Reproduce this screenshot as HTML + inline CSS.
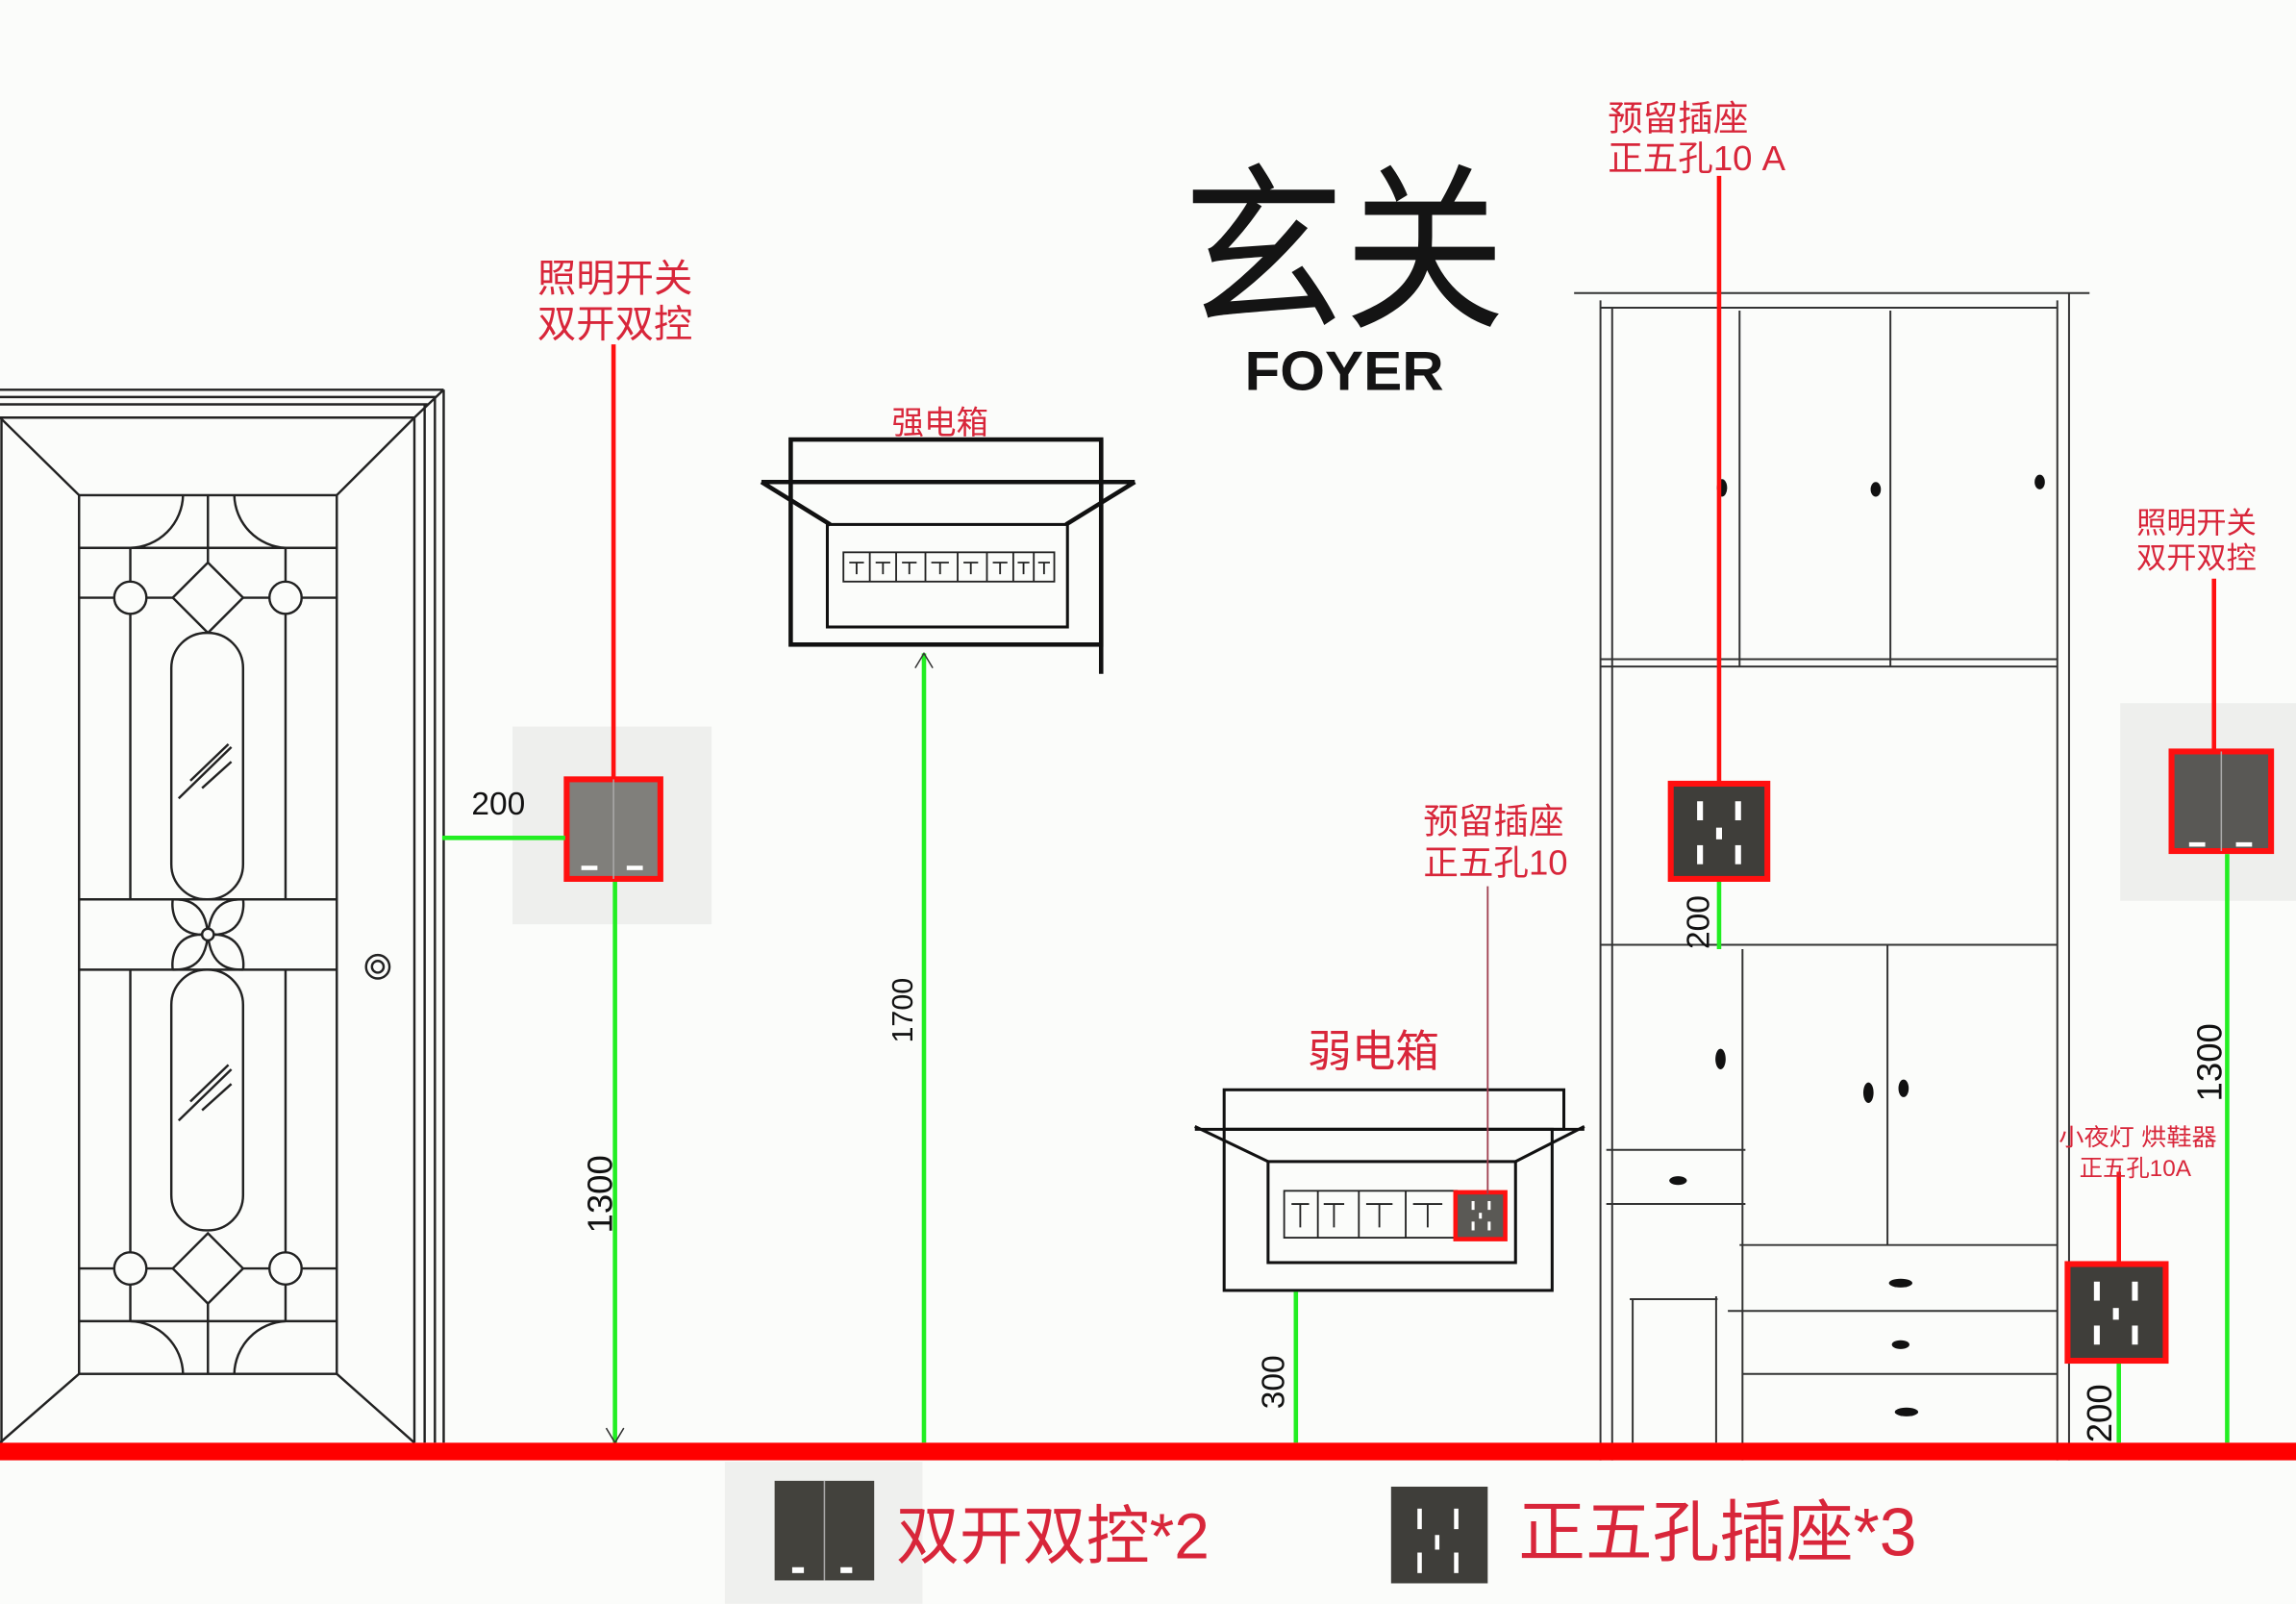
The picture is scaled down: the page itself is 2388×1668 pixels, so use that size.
<!DOCTYPE html>
<html><head><meta charset="utf-8"><style>
html,body{margin:0;padding:0;background:#fbfcfa;}
svg{display:block;}
text{font-family:"Liberation Sans","Noto Sans CJK SC",sans-serif;}
</style></head><body>
<svg width="2388" height="1668" viewBox="0 0 1568 1095" xmlns="http://www.w3.org/2000/svg">
<rect width="1568" height="1095" fill="#fbfcfa"/>
<defs>
<g id="sock">
<rect x="0" y="0" width="66" height="66" fill="#3f3e3a"/>
<rect x="18" y="12" width="4" height="13" fill="#fff"/><rect x="44" y="12" width="4" height="13" fill="#fff"/>
<rect x="31" y="30" width="4" height="8" fill="#fff"/>
<rect x="18" y="42" width="4" height="13" fill="#fff"/><rect x="44" y="42" width="4" height="13" fill="#fff"/>
</g>
</defs>

<!-- Door -->
<g stroke="#222" stroke-width="1.6" fill="none">
<line x1="0" y1="266" x2="303" y2="266"/><line x1="0" y1="271" x2="298" y2="271"/><line x1="0" y1="276" x2="292" y2="276"/>
<line x1="303" y1="266" x2="303" y2="985"/><line x1="297" y1="271" x2="297" y2="985"/><line x1="290" y1="276" x2="290" y2="985"/><line x1="283" y1="285" x2="283" y2="985"/>
<line x1="303" y1="266" x2="283" y2="285"/>
<line x1="0" y1="285" x2="283" y2="285"/><line x1="1" y1="285" x2="1" y2="985"/>
<line x1="0" y1="285" x2="54" y2="338"/><line x1="283" y1="285" x2="230" y2="338"/>
<line x1="0" y1="985" x2="54" y2="938"/><line x1="283" y1="985" x2="230" y2="938"/>
<rect x="54" y="338" width="176" height="600"/>
<line x1="54" y1="374" x2="230" y2="374"/><line x1="54" y1="408" x2="230" y2="408"/>
<line x1="54" y1="614" x2="230" y2="614"/><line x1="54" y1="662" x2="230" y2="662"/>
<line x1="54" y1="866" x2="230" y2="866"/><line x1="54" y1="902" x2="230" y2="902"/>
<line x1="142" y1="338" x2="142" y2="384"/><line x1="142" y1="890" x2="142" y2="938"/>
<line x1="89" y1="374" x2="89" y2="614"/><line x1="195" y1="374" x2="195" y2="614"/>
<line x1="89" y1="662" x2="89" y2="902"/><line x1="195" y1="662" x2="195" y2="902"/>
<path d="M89 374 A37 37 0 0 0 125 338"/><path d="M195 374 A37 37 0 0 1 160 338"/>
<path d="M89 902 A37 37 0 0 1 125 938"/><path d="M195 902 A37 37 0 0 0 160 938"/>
<circle cx="89" cy="408" r="11" fill="#fbfcfa"/><circle cx="195" cy="408" r="11" fill="#fbfcfa"/>
<circle cx="89" cy="866" r="11" fill="#fbfcfa"/><circle cx="195" cy="866" r="11" fill="#fbfcfa"/>
<polygon points="142,384 166,408 142,432 118,408" fill="#fbfcfa"/>
<polygon points="142,842 166,866 142,890 118,866" fill="#fbfcfa"/>
<rect x="117" y="432" width="49" height="182" rx="24" fill="#fbfcfa"/>
<rect x="117" y="662" width="49" height="178" rx="24" fill="#fbfcfa"/>
<path d="M142 638 C118 640 117 620 118 614 M142 638 C166 640 167 620 166 614 M142 638 C118 636 117 656 118 662 M142 638 C166 636 167 656 166 662"/>
<path d="M142 638 C140 614 125 614 118 614 M142 638 C144 614 159 614 166 614 M142 638 C140 662 125 662 118 662 M142 638 C144 662 159 662 166 662"/>
<circle cx="142" cy="638" r="4" fill="#fbfcfa"/>
<line x1="122" y1="545" x2="158" y2="510"/><line x1="130" y1="533" x2="156" y2="508"/><line x1="138" y1="538" x2="158" y2="520"/>
<line x1="122" y1="765" x2="158" y2="730"/><line x1="130" y1="752" x2="156" y2="727"/><line x1="138" y1="758" x2="158" y2="740"/>
<circle cx="258" cy="660" r="8"/><circle cx="258" cy="660" r="4"/>
</g>

<!-- Left switch -->
<rect x="350" y="496" width="136" height="135" fill="#eeefed"/>
<line x1="419" y1="235" x2="419" y2="531" stroke="#ff1010" stroke-width="3"/>
<rect x="387" y="532" width="64" height="68" fill="#807f7b" stroke="#ff1010" stroke-width="4"/>
<line x1="419" y1="532" x2="419" y2="600" stroke="#aaa" stroke-width="1"/>
<rect x="397" y="591" width="11" height="3" fill="#fff"/><rect x="428" y="591" width="11" height="3" fill="#fff"/>
<line x1="302" y1="572" x2="386" y2="572" stroke="#22ee22" stroke-width="3"/>
<line x1="420" y1="602" x2="420" y2="985" stroke="#22ee22" stroke-width="3"/>
<path d="M414 975 L420 985 L426 975" stroke="#333" fill="none" stroke-width="1"/>
<text x="322" y="556" font-size="22" fill="#111">200</text>
<text transform="translate(418,842) rotate(-90)" font-size="24" fill="#111">1300</text>
<text x="367" y="199" font-size="26" fill="#d8263a" textLength="106" lengthAdjust="spacingAndGlyphs">照明开关</text>
<text x="367" y="230" font-size="26" fill="#d8263a" textLength="106" lengthAdjust="spacingAndGlyphs">双开双控</text>

<!-- Strong box -->
<text x="642" y="296" font-size="22" fill="#d8263a" text-anchor="middle">强电箱</text>
<g stroke="#111" stroke-width="3" fill="none">
<rect x="540" y="300" width="212" height="140"/>
<line x1="752" y1="300" x2="752" y2="460"/>
<line x1="520" y1="329" x2="775" y2="329"/>
<line x1="520" y1="329" x2="567" y2="358"/><line x1="775" y1="329" x2="728" y2="358"/>
<rect x="565" y="358" width="164" height="70" stroke-width="2"/>
</g>
<g stroke="#222" stroke-width="1.2" fill="none">
<rect x="576" y="377" width="144" height="20"/>
<line x1="594" y1="377" x2="594" y2="397"/><line x1="612" y1="377" x2="612" y2="397"/><line x1="632" y1="377" x2="632" y2="397"/><line x1="654" y1="377" x2="654" y2="397"/><line x1="674" y1="377" x2="674" y2="397"/><line x1="692" y1="377" x2="692" y2="397"/><line x1="706" y1="377" x2="706" y2="397"/>
<path d="M580 384h10M585 384v8M598 384h10M603 384v8M616 384h10M621 384v8M636 384h12M642 384v8M658 384h10M663 384v8M678 384h10M683 384v8M695 384h8M699 384v8M709 384h8M713 384v8"/>
</g>
<line x1="631" y1="446" x2="631" y2="985" stroke="#22ee22" stroke-width="3"/>
<path d="M625 456 L631 446 L637 456" stroke="#333" fill="none" stroke-width="1"/>
<text transform="translate(623,712) rotate(-90)" font-size="20" fill="#111">1700</text>

<!-- Title -->
<text x="918" y="214" font-size="122" fill="#141414" text-anchor="middle" textLength="220" lengthAdjust="spacingAndGlyphs">玄关</text>
<text x="918" y="266" font-size="38" fill="#141414" text-anchor="middle" font-weight="bold" textLength="136" lengthAdjust="spacingAndGlyphs">FOYER</text>

<!-- Weak box -->
<text x="938" y="728" font-size="30" fill="#d8263a" text-anchor="middle">弱电箱</text>
<g stroke="#111" stroke-width="2" fill="none">
<rect x="836" y="744" width="232" height="27"/>
<line x1="816" y1="771" x2="1082" y2="771"/>
<line x1="816" y1="769" x2="866" y2="793"/><line x1="1082" y1="769" x2="1035" y2="793"/>
<rect x="836" y="771" width="224" height="110"/>
<rect x="866" y="793" width="169" height="69"/>
</g>
<g stroke="#222" stroke-width="1.2" fill="none">
<rect x="877" y="813" width="118" height="32"/>
<line x1="900" y1="813" x2="900" y2="845"/><line x1="928" y1="813" x2="928" y2="845"/><line x1="960" y1="813" x2="960" y2="845"/>
<path d="M882 822h12M888 822v16M904 822h14M911 822v16M933 822h18M942 822v16M965 822h20M975 822v16"/>
</g>
<rect x="994" y="814" width="34" height="32" fill="#5a5955" stroke="#ff1010" stroke-width="3"/>
<rect x="1005" y="820" width="2" height="6" fill="#fff"/><rect x="1016" y="820" width="2" height="6" fill="#fff"/><rect x="1010" y="828" width="2" height="4" fill="#fff"/><rect x="1005" y="834" width="2" height="6" fill="#fff"/><rect x="1016" y="834" width="2" height="6" fill="#fff"/>
<line x1="1016" y1="605" x2="1016" y2="815" stroke="#a04050" stroke-width="1.2"/>
<text x="972" y="569" font-size="24" fill="#d8263a">预留插座</text>
<text x="972" y="597" font-size="24" fill="#d8263a">正五孔10</text>
<line x1="885" y1="882" x2="885" y2="985" stroke="#22ee22" stroke-width="3"/>
<text transform="translate(877,962) rotate(-90)" font-size="22" fill="#111">300</text>

<!-- Cabinet -->
<g stroke="#333" stroke-width="1.3" fill="none">
<line x1="1075" y1="200" x2="1427" y2="200"/>
<line x1="1093" y1="210" x2="1405" y2="210"/>
<line x1="1093" y1="205" x2="1093" y2="997"/><line x1="1101" y1="210" x2="1101" y2="997"/>
<line x1="1405" y1="205" x2="1405" y2="997"/><line x1="1413" y1="200" x2="1413" y2="997"/>
<line x1="1188" y1="212" x2="1188" y2="455"/><line x1="1291" y1="212" x2="1291" y2="455"/>
<line x1="1093" y1="450" x2="1405" y2="450"/><line x1="1093" y1="455" x2="1405" y2="455"/>
<line x1="1093" y1="645" x2="1405" y2="645"/>
<line x1="1190" y1="648" x2="1190" y2="997"/><line x1="1289" y1="645" x2="1289" y2="850"/>
<line x1="1097" y1="785" x2="1192" y2="785"/><line x1="1097" y1="822" x2="1192" y2="822"/>
<line x1="1188" y1="850" x2="1405" y2="850"/><line x1="1180" y1="895" x2="1405" y2="895"/><line x1="1190" y1="938" x2="1405" y2="938"/>
<line x1="1113" y1="887" x2="1173" y2="887"/><line x1="1115" y1="887" x2="1115" y2="985"/><line x1="1172" y1="885" x2="1172" y2="985"/>
</g>
<g fill="#111">
<ellipse cx="1176" cy="333" rx="3.5" ry="6"/><ellipse cx="1281" cy="334" rx="3.5" ry="5"/><ellipse cx="1393" cy="329" rx="3.5" ry="5"/>
<ellipse cx="1175" cy="723" rx="3.5" ry="7"/><ellipse cx="1276" cy="746" rx="3.5" ry="7"/><ellipse cx="1300" cy="743" rx="3.5" ry="6"/>
<ellipse cx="1146" cy="806" rx="6" ry="3"/><ellipse cx="1298" cy="876" rx="8" ry="3"/><ellipse cx="1298" cy="918" rx="6" ry="3"/><ellipse cx="1302" cy="964" rx="8" ry="3"/>
</g>
<line x1="1174" y1="120" x2="1174" y2="535" stroke="#ff1010" stroke-width="3"/>
<use href="#sock" x="1141" y="535"/>
<rect x="1141" y="535" width="66" height="65" fill="none" stroke="#ff1010" stroke-width="4"/>
<line x1="1174" y1="602" x2="1174" y2="648" stroke="#22ee22" stroke-width="3"/>
<text transform="translate(1167,648) rotate(-90)" font-size="22" fill="#111">200</text>
<text x="1098" y="89" font-size="24" fill="#d8263a">预留插座</text>
<text x="1098" y="116" font-size="24" fill="#d8263a">正五孔10 A</text>

<!-- Right switch -->
<rect x="1448" y="480" width="120" height="135" fill="#eeefed"/>
<line x1="1512" y1="395" x2="1512" y2="512" stroke="#ff1010" stroke-width="3"/>
<rect x="1483" y="513" width="68" height="68" fill="#595855" stroke="#ff1010" stroke-width="4"/>
<line x1="1517" y1="513" x2="1517" y2="581" stroke="#aaa" stroke-width="1"/>
<rect x="1495" y="575" width="11" height="3" fill="#fff"/><rect x="1527" y="575" width="11" height="3" fill="#fff"/>
<text x="1459" y="364" font-size="20.5" fill="#d8263a">照明开关</text>
<text x="1459" y="388" font-size="20.5" fill="#d8263a">双开双控</text>
<line x1="1521" y1="583" x2="1521" y2="985" stroke="#22ee22" stroke-width="3"/>
<text transform="translate(1517,752) rotate(-90)" font-size="24" fill="#111">1300</text>

<!-- Night light socket -->
<line x1="1447" y1="800" x2="1447" y2="862" stroke="#ff1010" stroke-width="3"/>
<use href="#sock" x="1412" y="863"/>
<rect x="1412" y="863" width="67" height="66" fill="none" stroke="#ff1010" stroke-width="4"/>
<text x="1406" y="782" font-size="16" fill="#d8263a" textLength="108" lengthAdjust="spacingAndGlyphs">小夜灯 烘鞋器</text>
<text x="1420" y="803" font-size="16" fill="#d8263a">正五孔10A</text>
<line x1="1447" y1="931" x2="1447" y2="985" stroke="#22ee22" stroke-width="3"/>
<text transform="translate(1442,985) rotate(-90)" font-size="24" fill="#111">200</text>

<!-- Floor -->
<rect x="0" y="985" width="1568" height="12" fill="#ff0000"/>

<!-- Legend -->
<rect x="495" y="998" width="135" height="97" fill="#eff0ee"/>
<rect x="529" y="1011" width="68" height="68" fill="#43423d"/>
<line x1="563" y1="1011" x2="563" y2="1079" stroke="#aaa" stroke-width="1"/>
<rect x="541" y="1070" width="8" height="4" fill="#fff"/><rect x="574" y="1070" width="8" height="4" fill="#fff"/>
<text x="612" y="1064" font-size="44" fill="#d8263a" textLength="214" lengthAdjust="spacingAndGlyphs">双开双控*2</text>
<rect x="950" y="1015" width="66" height="66" fill="#3f3e3a"/>
<rect x="968" y="1030" width="3" height="14" fill="#fff"/><rect x="993" y="1030" width="3" height="14" fill="#fff"/>
<rect x="980" y="1048" width="3" height="10" fill="#fff"/>
<rect x="968" y="1060" width="3" height="14" fill="#fff"/><rect x="993" y="1060" width="3" height="14" fill="#fff"/>
<text x="1037" y="1062" font-size="46" fill="#d8263a" textLength="272" lengthAdjust="spacingAndGlyphs">正五孔插座*3</text>
</svg>
</body></html>
